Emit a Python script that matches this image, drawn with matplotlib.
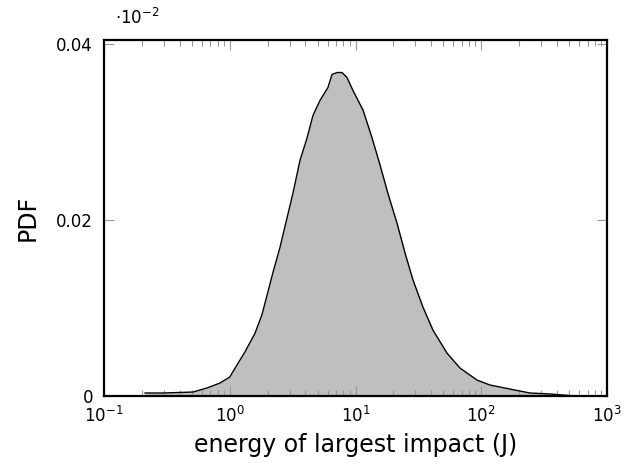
import matplotlib
matplotlib.use("Agg")
import matplotlib.pyplot as plt
from matplotlib.ticker import LogLocator, FixedLocator, NullFormatter

plt.rcParams['font.family'] = ['DejaVu Sans']
plt.rcParams['mathtext.fontset'] = 'dejavusans'

energy = [0.212, 0.294, 0.511, 0.659, 0.836, 1.00, 1.14, 1.32, 1.59, 1.80,
          1.98, 2.21, 2.51, 2.85, 3.18, 3.62, 4.11, 4.59, 5.22, 6.04,
          6.50, 7.13, 7.81, 8.55, 9.55, 11.5, 13.5, 15.7, 18.1, 21.4,
          24.8, 28.7, 34.4, 41.3, 53.4, 67.8, 92.5, 117, 169, 244,
          352, 557]
pdf = [0.00034, 0.00034, 0.00045, 0.00091, 0.00147, 0.00215, 0.00351, 0.00499, 0.00714, 0.00918,
       0.01144, 0.01405, 0.01688, 0.02017, 0.02300, 0.02674, 0.02924, 0.03184, 0.03354, 0.03501,
       0.03649, 0.03671, 0.03671, 0.03615, 0.03467, 0.03241, 0.02935, 0.02618, 0.02300, 0.01960,
       0.01620, 0.01314, 0.01008, 0.00748, 0.00487, 0.00317, 0.00181, 0.00125, 0.00079, 0.00034,
       0.00023, 0.0]

yticks = [0, 0.02, 0.04]
ytick_labels = ["0", "0.02", "0.04"]

fig = plt.figure(figsize=(6.36, 4.74), dpi=100)
ax = fig.add_axes([104/636, 1 - 396/474, (607-104)/636, (396-40)/474])

ax.fill_between(energy, pdf, 0, color='#bfbfbf', linewidth=0)
ax.plot(energy, pdf, color='black', linewidth=1.0)

ax.set_xscale('log')
ax.set_xlim(0.1, 1000)
ax.set_ylim(0, 0.0404)

ax.yaxis.set_major_locator(FixedLocator(yticks))
ax.set_yticklabels(ytick_labels)
ax.xaxis.set_major_locator(LogLocator(base=10, numticks=10))
ax.xaxis.set_minor_locator(LogLocator(base=10, subs=range(2, 10), numticks=20))
ax.xaxis.set_minor_formatter(NullFormatter())

ax.tick_params(axis='both', which='both', direction='in', top=True, right=True,
               color='#999999', labelsize=12)
ax.tick_params(axis='x', which='major', length=7, width=0.8, pad=7)
ax.tick_params(axis='y', which='major', length=7, width=0.8, pad=8)
ax.tick_params(axis='both', which='minor', length=4.5, width=0.8)
for s in ax.spines.values():
    s.set_linewidth(1.6)

ax.set_xlabel('energy of largest impact (J)', fontsize=17, labelpad=5)
ax.set_ylabel('PDF', fontsize=17, labelpad=12)
fig.text(115/636, 1 - 18/474, r'$\cdot 10^{-2}$', fontsize=12, va='center', ha='left')

fig.savefig('out.png', dpi=100)
